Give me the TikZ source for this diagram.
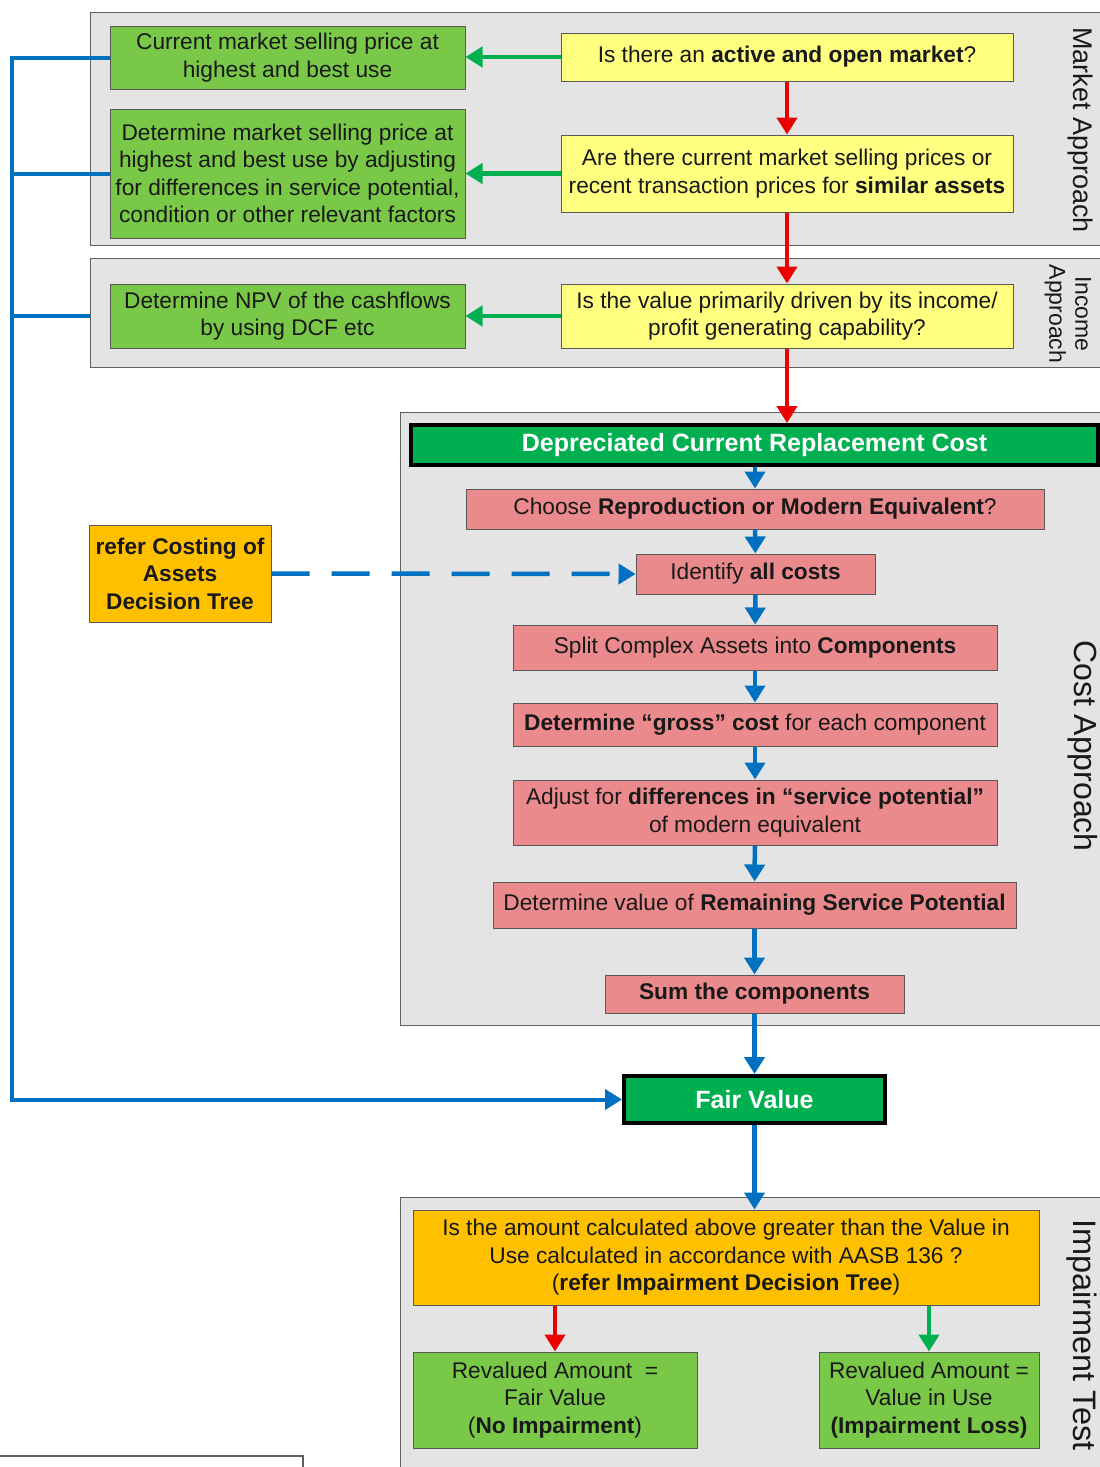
\documentclass[tikz,border=0pt]{standalone}
\usepackage{fontspec}
\setmainfont{Liberation Sans}
\usetikzlibrary{arrows.meta}
\definecolor{panelgray}{RGB}{228,228,228}
\definecolor{panelline}{RGB}{95,95,95}
\definecolor{boxgreen}{RGB}{122,200,72}
\definecolor{boxyellow}{RGB}{255,255,128}
\definecolor{boxpink}{RGB}{234,138,140}
\definecolor{boxorange}{RGB}{255,192,0}
\definecolor{dgreen}{RGB}{0,176,80}
\definecolor{ablue}{RGB}{0,112,192}
\definecolor{ared}{RGB}{235,0,0}
\definecolor{txt}{RGB}{25,25,25}
\newcommand{\fsz}{\fontsize{22.7}{27.5}\selectfont}
\newcommand{\hsz}{\fontsize{25}{30}\selectfont}
\tikzset{
  panel/.style={draw=panelline, fill=panelgray, line width=1.3pt, anchor=north west, inner sep=0pt},
  box/.style={draw=black!65, line width=1pt, align=center, inner sep=1pt, font=\fsz, text=txt},
  gbox/.style={box, fill=boxgreen},
  ybox/.style={box, fill=boxyellow},
  pbox/.style={box, fill=boxpink},
  obox/.style={box, fill=boxorange},
  hbox/.style={draw=black, line width=4pt, fill=dgreen, text=white, font=\hsz\bfseries, inner sep=0pt},
  sidelbl/.style={rotate=-90, align=center, text=txt},
  arr/.style={line width=4.5pt, -{Triangle[width=20pt,length=17pt]}},
  redarr/.style={arr, draw=ared},
  grnarr/.style={arr, draw=dgreen},
  bluarr/.style={arr, draw=ablue},
  blueline/.style={line width=4pt, draw=ablue},
}
\begin{document}
\begin{tikzpicture}[x=1pt,y=-1pt]
\useasboundingbox (0,0) rectangle (1100,1467);
\clip (0,0) rectangle (1100,1467);
% panels
\node[panel, minimum width=1030, minimum height=233] (mkt) at (90,12) {};
\node[panel, minimum width=1030, minimum height=109] (inc) at (90,258) {};
\node[panel, minimum width=720, minimum height=613] (cost) at (400,412) {};
\node[panel, minimum width=720, minimum height=300] (imp) at (400,1197) {};
\draw[draw=panelline, fill=white, line width=1.3pt] (-5,1456) rectangle (303,1490);
% side labels
\node[sidelbl, font=\fontsize{27}{30}\selectfont] (lmkt) at (1080,130) {Market Approach};
\node[sidelbl, font=\fontsize{23}{26}\selectfont] (linc) at (1068,314) {Income\\Approach};
\node[sidelbl, font=\fontsize{32}{36}\selectfont] (lcost) at (1083,746) {Cost Approach};
\node[sidelbl, font=\fontsize{32.5}{36}\selectfont] (limp) at (1082,1335) {Impairment Test};
% market / income
\node[gbox, minimum width=355, minimum height=63] (g1) at (287.5,57.5) {Current market selling price at\\highest and best use};
\node[gbox, minimum width=355, minimum height=129] (g2) at (287.5,173.5) {Determine market selling price at\\highest and best use by adjusting\\for differences in service potential,\\condition or other relevant factors};
\node[gbox, minimum width=355, minimum height=64] (g3) at (287.5,316) {Determine NPV of the cashflows\\by using DCF etc};
\node[ybox, minimum width=452, minimum height=48] (y1) at (787,57) {Is there an \textbf{active and open market}?};
\node[ybox, minimum width=452, minimum height=77] (y2) at (787,173.5) {Are there current market selling prices or\\recent transaction prices for \textbf{similar assets}};
\node[ybox, minimum width=452, minimum height=64] (y3) at (787,316) {Is the value primarily driven by its income/\\profit generating capability?};
% cost
\node[hbox, minimum width=687, minimum height=40] (dcrc) at (754.5,445) {Depreciated Current Replacement Cost};
\node[pbox, minimum width=578, minimum height=40] (c1) at (755,509) {Choose \textbf{Reproduction or Modern Equivalent}?};
\node[pbox, minimum width=239, minimum height=40] (c2) at (755.5,574) {Identify \textbf{all costs}};
\node[pbox, minimum width=484, minimum height=45] (c3) at (755,647.5) {Split Complex Assets into \textbf{Components}};
\node[pbox, minimum width=484, minimum height=43] (c4) at (755,724.5) {\textbf{Determine “gross” cost} for each component};
\node[pbox, minimum width=484, minimum height=65] (c5) at (755,812.5) {Adjust for \textbf{differences in “service potential”}\\of modern equivalent};
\node[pbox, minimum width=523, minimum height=46] (c6) at (754.5,905) {Determine value of \textbf{Remaining Service Potential}};
\node[pbox, minimum width=299, minimum height=38] (c7) at (754.5,994) {\textbf{Sum the components}};
\node[obox, minimum width=182, minimum height=97, font=\fsz\bfseries] (ref) at (180,573.5) {refer Costing of\\Assets\\Decision Tree};
\node[hbox, minimum width=261, minimum height=47] (fv) at (754.5,1099.5) {Fair Value};
% impairment
\node[obox, minimum width=626, minimum height=95] (q) at (726,1257.5) {Is the amount calculated above greater than the Value in\\Use calculated in accordance with AASB 136 ?\\(\textbf{refer Impairment Decision Tree})};
\node[gbox, minimum width=284, minimum height=96] (r1) at (555,1400) {Revalued Amount\ \ =\\Fair Value\\(\textbf{No Impairment})};
\node[gbox, minimum width=220, minimum height=96] (r2) at (929,1400) {Revalued Amount =\\Value in Use\\\textbf{(Impairment Loss)}};
% connectors market/income
\draw[grnarr] (y1.west) -- (g1.east |- y1.west);
\draw[grnarr] (y2.west) -- (g2.east |- y2.west);
\draw[grnarr] (y3.west) -- (g3.east |- y3.west);
\draw[redarr] (y1) -- (y2);
\draw[redarr] (y2) -- (y3);
\draw[redarr] (y3.south) -- (y3.south |- dcrc.north);
% cost chain
\draw[bluarr] (dcrc.south -| c1.north) -- (c1.north);
\draw[bluarr] (c1) -- (c2);
\draw[bluarr] (c2) -- (c3);
\draw[bluarr] (c3) -- (c4);
\draw[bluarr] (c4) -- (c5);
\draw[bluarr] (c5) -- (c6);
\draw[bluarr] (c6) -- (c7);
\draw[bluarr] (c7) -- (fv);
\draw[bluarr] (fv.south) -- (fv.south |- q.north);
\draw[bluarr, dash pattern=on 38pt off 22pt] (ref.east) -- (c2.west);
% impairment outcomes
\draw[redarr] (r1.north |- q.south) -- (r1.north);
\draw[grnarr] (r2.north |- q.south) -- (r2.north);
% left collector line
\coordinate (L) at (12,0);
\draw[blueline] (g2.west) -- (g2.west -| L);
\draw[blueline] (inc.west |- g3.west) -- (g3.west -| L);
\draw[blueline, -{Triangle[width=20pt,length=17pt]}] (g1.west) -- (g1.west -| L) -- (L |- fv.west) -- (fv.west);
\end{tikzpicture}
\end{document}
